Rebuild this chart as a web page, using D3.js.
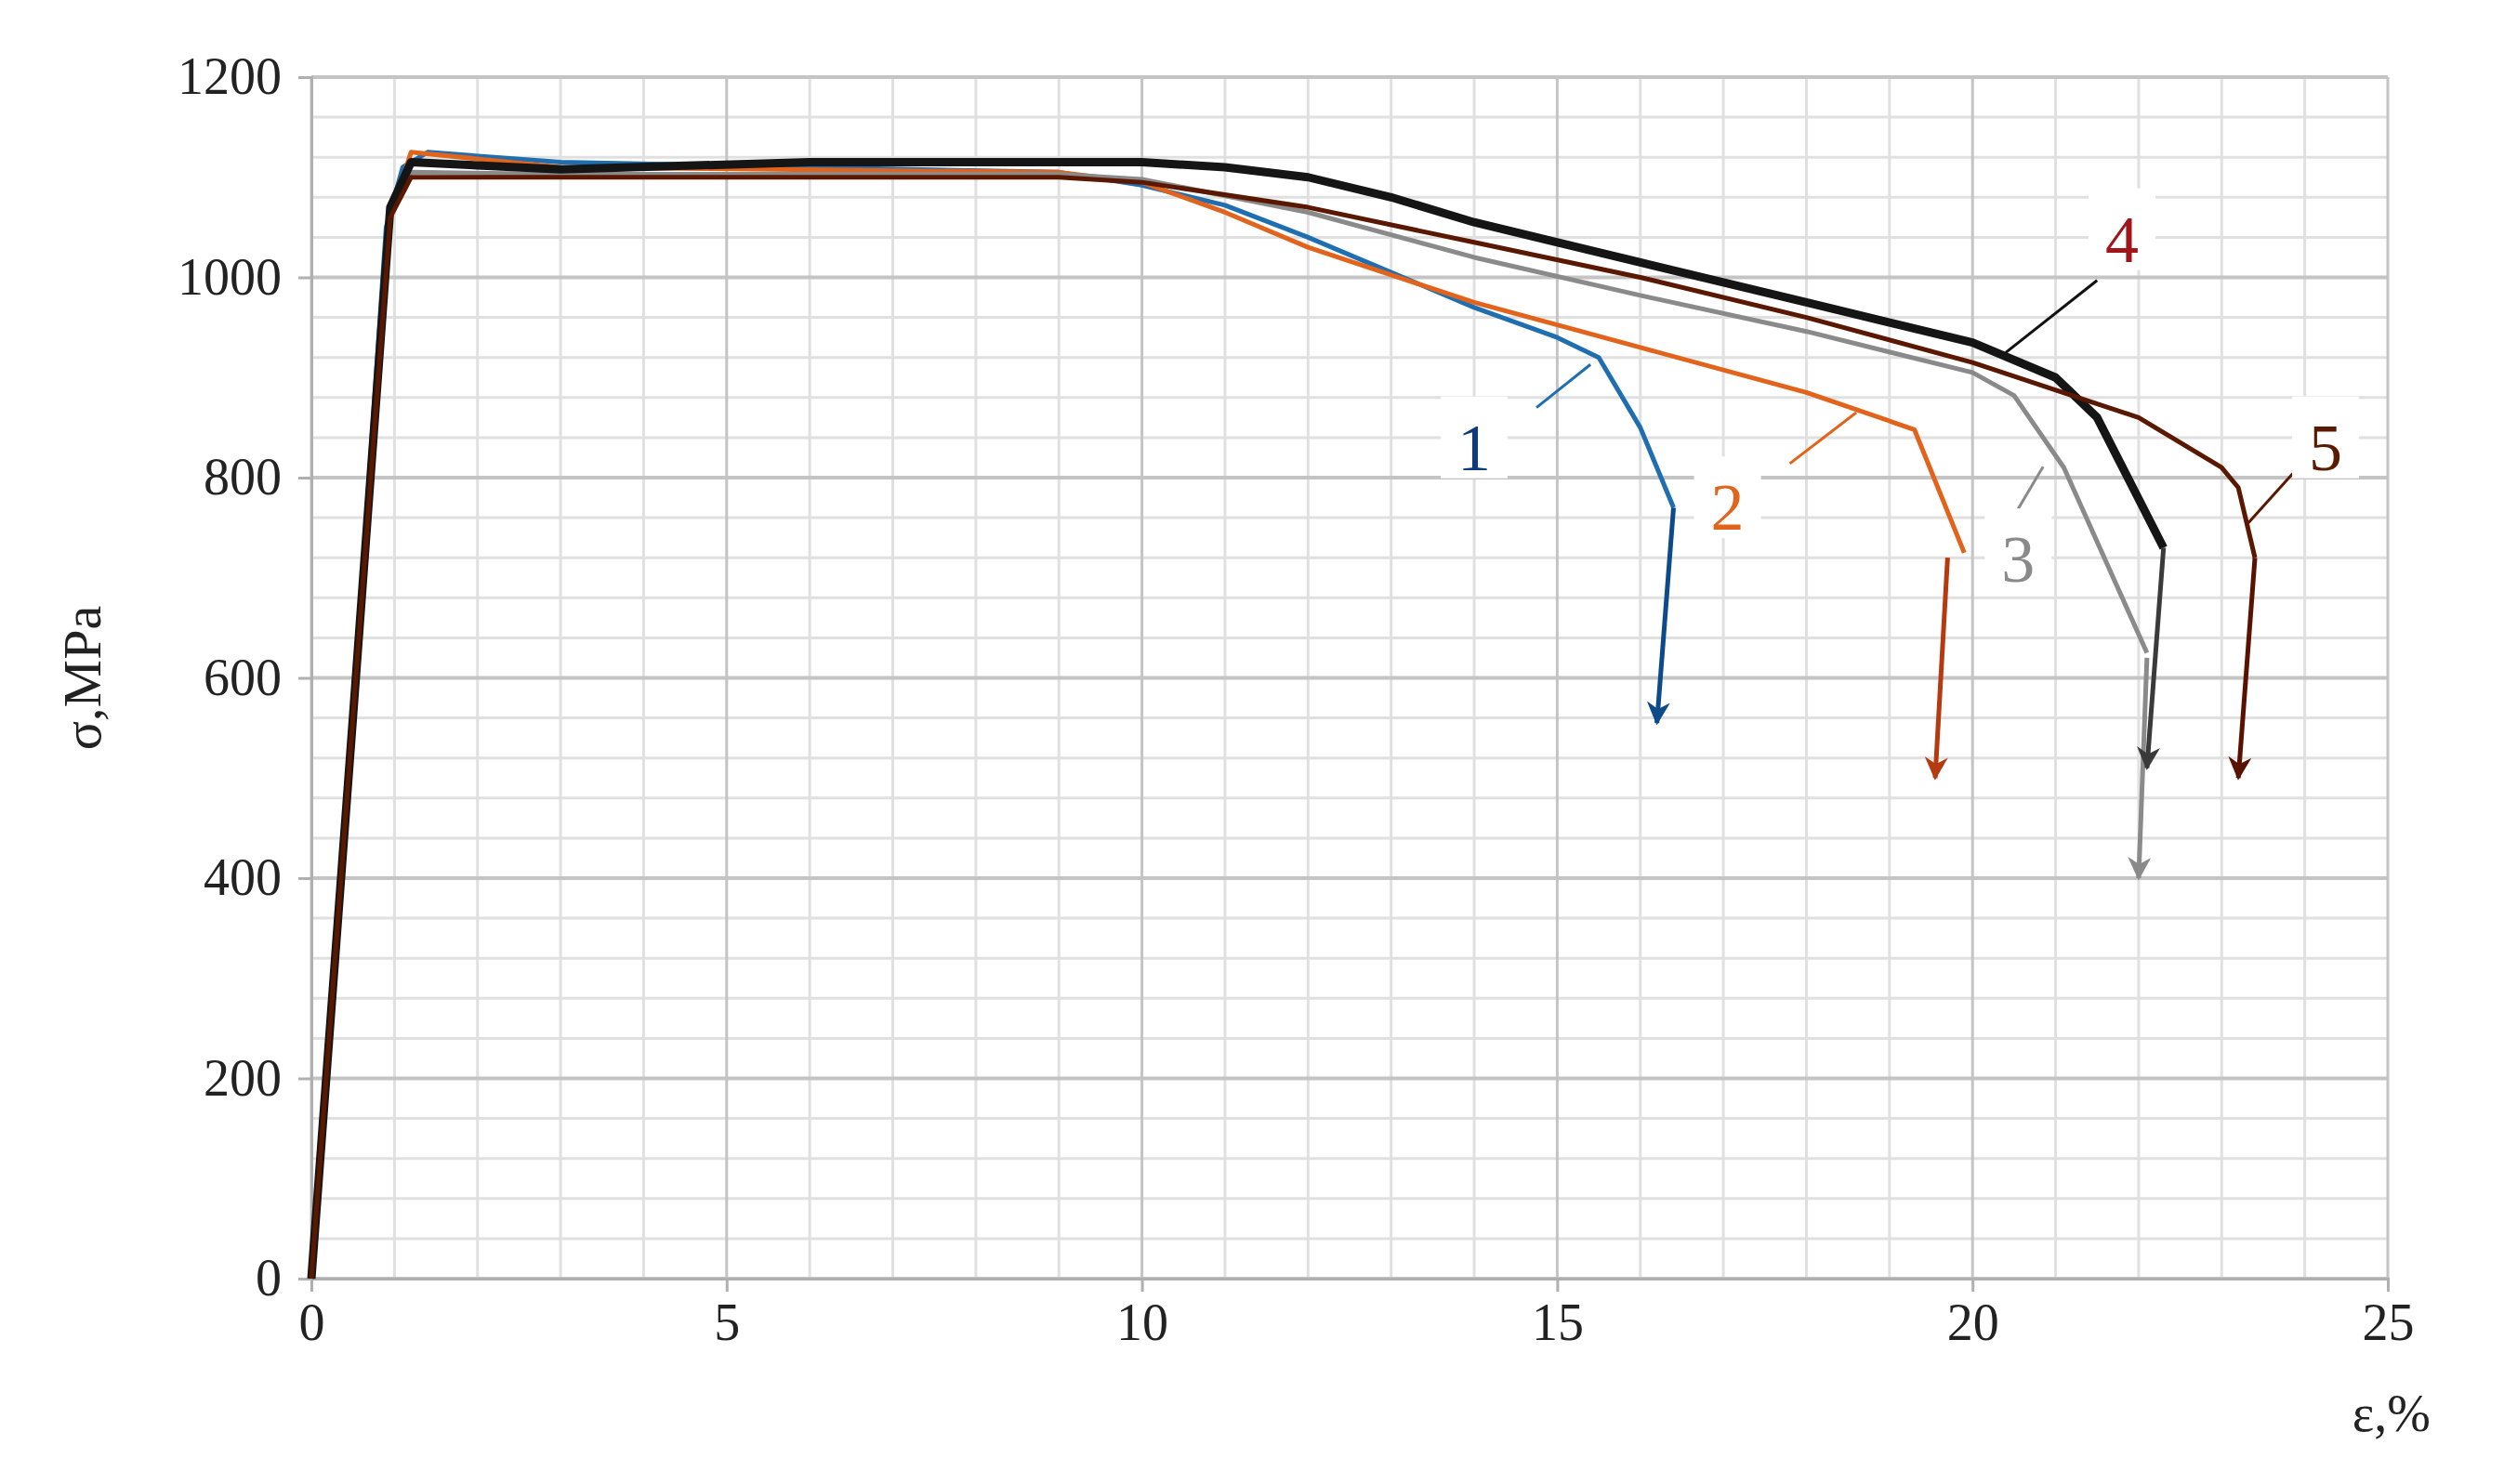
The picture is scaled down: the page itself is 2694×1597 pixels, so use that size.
<!DOCTYPE html>
<html><head><meta charset="utf-8">
<script src="https://cdn.jsdelivr.net/npm/d3@7"></script>
<style>body{margin:0;background:#fff}text{font-family:"Liberation Serif",serif}</style>
</head><body>
<svg id="c" width="2694" height="1597"></svg>
<script>
// strain %, stress MPa
const curve1 = [[0,0],[0.5,560],[0.9,1050],[1.1,1110],[1.4,1125],[3,1115],[6,1110],[9,1105],[10,1092],[11,1072],[12,1040],[13,1005],[14,970],[15,940],[15.5,920],[16,850],[16.4,770]]
const curve2 = [[0,0],[0.5,560],[0.95,1060],[1.2,1125],[3,1110],[9,1105],[10,1095],[11,1065],[12,1030],[14,975],[16,930],[18,885],[19.3,848],[19.9,725]]
const curve3 = [[0,0],[0.5,560],[0.95,1060],[1.2,1105],[3,1103],[9,1103],[10,1098],[12,1065],[14,1020],[16,982],[18,946],[20,905],[20.5,882],[21.1,810],[22.1,625]]
const curve4 = [[0,0],[0.5,560],[0.95,1070],[1.2,1115],[3,1108],[6,1115],[10,1115],[11,1110],[12,1100],[13,1080],[14,1055],[16,1015],[18,975],[20,935],[21,900],[21.5,860],[22.3,730]]
const curve5 = [[0,0],[0.5,560],[0.95,1060],[1.2,1100],[3,1100],[9,1100],[10,1095],[12,1070],[14,1035],[16,1000],[18,960],[20,915],[22,860],[23,810],[23.2,790],[23.4,720]]
const arrows = [[[16.4,770],[16.2,555]],[[19.7,720],[19.55,500]],[[22.1,620],[22.0,400]],[[22.3,730],[22.1,510]],[[23.4,720],[23.2,500]]]
const names = ['1','2','3','4','5']
const labelPos = [[14.0,830],[17.05,770],[20.55,718],[21.8,1038],[24.25,830]]
const leaders = [[[14.75,870],[15.4,913]],[[17.8,814],[18.6,865]],[[20.55,769],[20.85,811]],[[21.5,997],[20.4,925]],[[24.05,822],[23.3,753]]]
const xTicks = [0,5,10,15,20,25]
const yTicks = [0,200,400,600,800,1000,1200]

const colors = ['#1f6fb0','#e2641c','#8a8a8a','#151515','#5a1800']
const arrowColors = ['#0d4a8a','#b53a10','#8a8a8a','#3a3a3a','#5a1200']
const labelColors = ['#0d3a7a','#e2641c','#8a8a8a','#a0141a','#5a1a00']
const widths = [5,5,5,9,5]

const L = 335, T = 83, W = 2234, H = 1293
const svg = d3.select('#c')
const x = d3.scaleLinear().domain([0,25]).range([L, L+W])
const y = d3.scaleLinear().domain([0,1200]).range([T+H, T])

// minor grid
svg.append('g').selectAll('line').data(d3.range(1,25).filter(d => d%5)).join('line')
  .attr('x1', d => x(d)).attr('x2', d => x(d)).attr('y1', T).attr('y2', T+H)
  .attr('stroke', '#e0e0e0').attr('stroke-width', 3)
svg.append('g').selectAll('line').data(d3.range(40,1200,40).filter(d => d%200)).join('line')
  .attr('x1', L).attr('x2', L+W).attr('y1', d => y(d)).attr('y2', d => y(d))
  .attr('stroke', '#e0e0e0').attr('stroke-width', 3)
// major grid
svg.append('g').selectAll('line').data(xTicks).join('line')
  .attr('x1', d => x(d)).attr('x2', d => x(d)).attr('y1', T).attr('y2', T+H)
  .attr('stroke', '#c4c4c4').attr('stroke-width', 3)
svg.append('g').selectAll('line').data(yTicks).join('line')
  .attr('x1', L).attr('x2', L+W).attr('y1', d => y(d)).attr('y2', d => y(d))
  .attr('stroke', '#c4c4c4').attr('stroke-width', 4)

// axes
const xa = svg.append('g').attr('transform', `translate(0,${T+H})`)
  .call(d3.axisBottom(x).tickValues(xTicks).tickSize(14).tickPadding(12).tickFormat(d3.format('d')))
const ya = svg.append('g').attr('transform', `translate(${L},0)`)
  .call(d3.axisLeft(y).tickValues(yTicks).tickSize(14).tickPadding(18).tickFormat(d3.format('d')))
;[xa, ya].forEach(a => {
  a.select('.domain').attr('stroke', '#b0b0b0').attr('stroke-width', 3)
  a.selectAll('.tick line').attr('stroke', '#b0b0b0').attr('stroke-width', 3)
  a.selectAll('text').attr('font-size', 56).attr('fill', '#222').style('font-family', '"Liberation Serif",serif')
})

// curves
const line = d3.line().x(d => x(d[0])).y(d => y(d[1]))
const curves = [curve1, curve2, curve3, curve4, curve5]
curves.forEach((c, i) => {
  svg.append('path').attr('d', line(c)).attr('fill', 'none')
    .attr('stroke', colors[i]).attr('stroke-width', widths[i]).attr('stroke-linejoin', 'round')
})

// arrows
const defs = svg.append('defs')
arrows.forEach((a, i) => {
  defs.append('marker').attr('id', 'ar' + i).attr('viewBox', '0 0 10 10').attr('refX', 9).attr('refY', 5)
    .attr('markerWidth', 7).attr('markerHeight', 5).attr('markerUnits', 'strokeWidth').attr('orient', 'auto')
    .append('path').attr('d', 'M0,0 L10,5 L0,10 L3,5 Z').attr('fill', arrowColors[i])
  svg.append('line').attr('x1', x(a[0][0])).attr('y1', y(a[0][1])).attr('x2', x(a[1][0])).attr('y2', y(a[1][1]))
    .attr('stroke', arrowColors[i]).attr('stroke-width', 5).attr('marker-end', `url(#ar${i})`)
})

// leaders + labels
leaders.forEach((l, i) => {
  svg.append('line').attr('x1', x(l[0][0])).attr('y1', y(l[0][1])).attr('x2', x(l[1][0])).attr('y2', y(l[1][1]))
    .attr('stroke', i === 3 ? '#111' : colors[i]).attr('stroke-width', 3)
})
labelPos.forEach((p, i) => {
  svg.append('rect').attr('x', x(p[0]) - 36).attr('y', y(p[1]) - 55).attr('width', 72).attr('height', 88).attr('fill', '#fff')
  svg.append('text').attr('x', x(p[0])).attr('y', y(p[1]) + 24).attr('text-anchor', 'middle')
    .attr('font-size', 72).attr('fill', labelColors[i]).text(names[i])
})

// axis titles
svg.append('text').attr('transform', `translate(108,${T+H/2}) rotate(-90)`).attr('text-anchor', 'middle')
  .attr('font-size', 58).attr('fill', '#222').text('σ,MPa')
svg.append('text').attr('x', 2615).attr('y', 1540).attr('text-anchor', 'end')
  .attr('font-size', 56).attr('fill', '#222').text('ε,%')
</script>
</body></html>
